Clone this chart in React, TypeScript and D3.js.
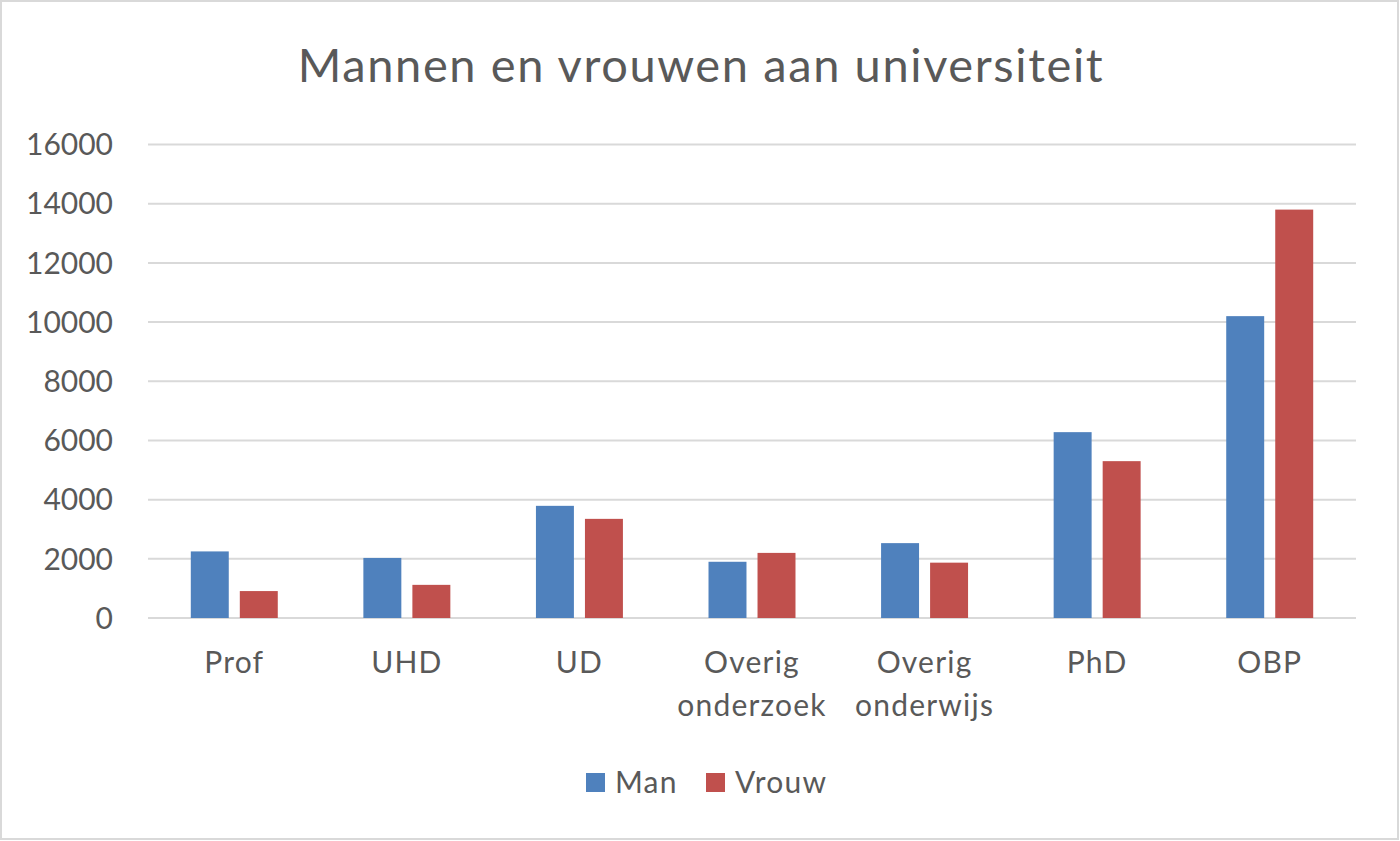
import { useEffect, useRef } from 'react'
import * as d3 from 'd3'

const CATEGORIES = [
  ['Prof'],
  ['UHD'],
  ['UD'],
  ['Overig', 'onderzoek'],
  ['Overig', 'onderwijs'],
  ['PhD'],
  ['OBP'],
]
const SERIES = ['Man', 'Vrouw']
const MAN = [2250, 2030, 3790, 1900, 2530, 6280, 10200]
const VROUW = [910, 1120, 3350, 2200, 1870, 5300, 13800]
const Y_TICKS = [0, 2000, 4000, 6000, 8000, 10000, 12000, 14000, 16000]
const COLORS = ['#4f81bd', '#c0504d']

const FONT = 'Lato, "Open Sans", sans-serif'
const TEXT = '#595959'

export default function App() {
  const svgRef = useRef<SVGSVGElement>(null)

  useEffect(() => {
    const svg = d3.select(svgRef.current)
    svg.selectAll('*').remove()

    const W = 1400
    const H = 841
    const left = 148
    const right = 1356
    const top = 144.5
    const bottom = 618

    svg.append('rect')
      .attr('x', 1).attr('y', 1).attr('width', W - 3).attr('height', H - 3)
      .attr('fill', '#fff').attr('stroke', '#d9d9d9').attr('stroke-width', 2)

    svg.append('text')
      .attr('x', 701).attr('y', 82)
      .attr('text-anchor', 'middle').attr('fill', TEXT)
      .attr('font-family', FONT).attr('font-size', 47)
      .attr('letter-spacing', 1.6)
      .text('Mannen en vrouwen aan universiteit')

    const x = d3.scaleBand<number>()
      .domain(d3.range(CATEGORIES.length))
      .range([left, right])

    const y = d3.scaleLinear().domain([0, 16000]).range([bottom, top])

    const bw = x.bandwidth()
    const barW = bw * 0.22
    const gap = bw * 0.064
    const x1 = (s: number) => bw / 2 - barW - gap / 2 + s * (barW + gap)

    // gridlines
    svg.append('g')
      .selectAll('line')
      .data(Y_TICKS)
      .join('line')
      .attr('x1', left).attr('x2', right)
      .attr('y1', (d) => y(d)).attr('y2', (d) => y(d))
      .attr('stroke', '#d9d9d9').attr('stroke-width', 2)

    // y tick labels
    svg.append('g')
      .selectAll('text')
      .data(Y_TICKS)
      .join('text')
      .attr('x', 113).attr('y', (d) => y(d))
      .attr('dy', '0.36em')
      .attr('text-anchor', 'end').attr('fill', TEXT)
      .attr('font-family', FONT).attr('font-size', 30)
      .text((d) => String(d))

    // bars
    const values = [MAN, VROUW]
    values.forEach((vals, s) => {
      svg.append('g')
        .selectAll('rect')
        .data(vals)
        .join('rect')
        .attr('x', (_, i) => (x(i) as number) + x1(s))
        .attr('width', barW)
        .attr('y', (d) => y(d))
        .attr('height', (d) => bottom - y(d))
        .attr('fill', COLORS[s])
    })

    // x labels
    const xl = svg.append('g')
    CATEGORIES.forEach((lines, i) => {
      const t = xl.append('text')
        .attr('text-anchor', 'middle').attr('fill', TEXT)
        .attr('font-family', FONT).attr('font-size', 30)
        .attr('letter-spacing', 1.2)
      lines.forEach((ln, j) => {
        t.append('tspan')
          .attr('x', (x(i) as number) + bw / 2)
          .attr('y', 673 + j * 43)
          .text(ln)
      })
    })

    // legend
    const legendX = [586, 706]
    SERIES.forEach((name, s) => {
      svg.append('rect')
        .attr('x', legendX[s]).attr('y', 773)
        .attr('width', 19).attr('height', 19)
        .attr('fill', COLORS[s])
      svg.append('text')
        .attr('x', legendX[s] + 29).attr('y', 793)
        .attr('fill', TEXT)
        .attr('font-family', FONT).attr('font-size', 30)
        .attr('letter-spacing', 1.2)
        .text(name)
    })
  }, [])

  return (
    <svg
      ref={svgRef}
      width={1400}
      height={841}
      style={{ position: 'absolute', left: 0, top: 0 }}
    />
  )
}
